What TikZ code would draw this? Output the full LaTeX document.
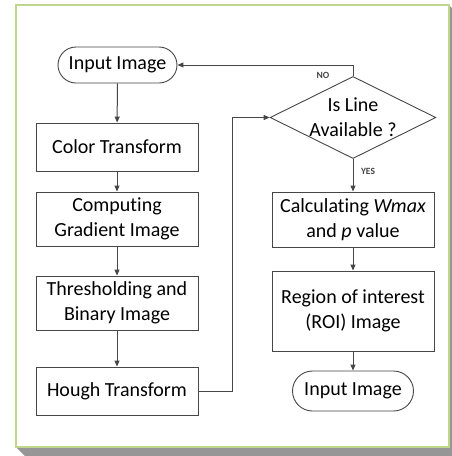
\documentclass[tikz,border=0pt]{standalone}
\usepackage{fontspec}
\setmainfont[Ligatures=NoCommon]{Carlito}
\usepackage{tikz}
\usetikzlibrary{positioning, shapes.geometric, arrows.meta}
\definecolor{fcLine}{RGB}{70, 70, 70}
\definecolor{fcFrame}{RGB}{190, 215, 140}
\definecolor{fcShadow}{RGB}{150, 150, 150}
\tikzset{
    base/.style={
        font=\fontsize{20}{25}\selectfont,
        align=center,
        text=black
    },
    process/.style={
        base,
        rectangle,
        draw=fcLine,
        line width=0.9pt,
        fill=white,
        minimum width=162pt,
        inner sep=0pt
    },
    terminal/.style={
        base,
        rectangle,
        draw=fcLine,
        line width=0.9pt,
        fill=white,
        inner sep=0pt
    },
    decision/.style={
        base,
        diamond,
        draw=fcLine,
        line width=0.9pt,
        fill=white,
        aspect=2.02,
        inner sep=0pt,
        minimum width=162pt,
        minimum height=80pt
    },
    flow/.style={
        -{Triangle[length=6pt,width=5pt]},
        line width=1pt,
        color=fcLine
    },
    tag/.style={
        font=\fontsize{9.5}{10}\selectfont\bfseries,
        text=fcLine,
        inner sep=1pt
    }
}
\begin{document}
\begin{tikzpicture}[x=1pt,y=-1pt]
  \useasboundingbox (0,0) rectangle (452,456);
  % frame with shadow
  \fill[fcShadow] (16,447) -- (25,456) -- (452,456) -- (452,8) -- (449,5) -- cycle;
  \draw[fcFrame, line width=1.6pt, fill=white] (16,5) rectangle (449,447);

  % left column
  \node[terminal, minimum width=119pt, minimum height=36pt, rounded corners=18pt] (in1) at (117.5,65) {Input Image};
  \node[process, minimum height=48pt] (ct) at (117,147) {Color Transform};
  \node[process, minimum height=54pt] (cg) at (117,219) {Computing\\Gradient Image};
  \node[process, minimum height=54pt] (th) at (117,303) {Thresholding and\\Binary Image};
  \node[process, minimum height=48pt] (ht) at (117,391) {Hough Transform};

  % right column
  \node[decision] (dec) at (353,117.5) {Is Line\\Available ?};
  \node[process, minimum height=55pt] (calc) at (353,219.5) {Calculating \textit{Wmax}\\and \textit{p} value};
  \node[process, minimum height=80pt] (roi) at (353,311) {Region of interest\\(ROI) Image};
  \node[terminal, minimum width=121pt, minimum height=40pt, rounded corners=20pt] (in2) at (353,391) {Input Image};
  \coordinate (bend) at (232,391);

  \draw[flow] (in1) -- (ct);
  \draw[flow] (ct) -- (cg);
  \draw[flow] (cg) -- (th);
  \draw[flow] (th) -- (ht);
  \draw[flow] (ht.east) -- (bend) |- (dec.west);
  \draw[flow] (dec.north) |- (in1.east);
  \draw[flow] (dec.south) -- (calc);
  \draw[flow] (calc) -- (roi);
  \draw[flow] (roi) -- (in2);

  \node[tag] (no) at (323,75) {NO};
  \node[tag] (yes) at (368,171) {YES};
\end{tikzpicture}
\end{document}
